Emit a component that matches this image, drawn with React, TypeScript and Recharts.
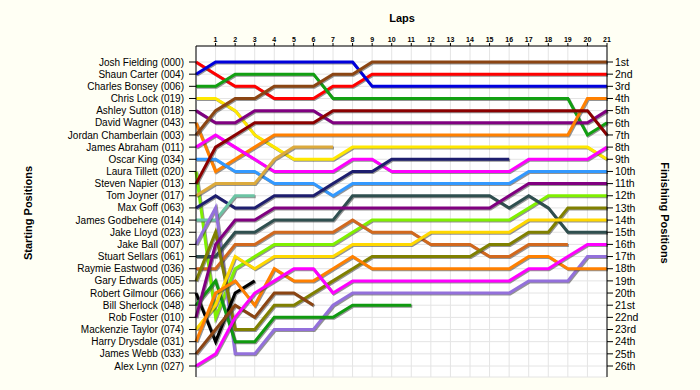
import React from 'react';
import { LineChart, Line, XAxis, YAxis, CartesianGrid } from 'recharts';

const startingNames = [
  'Josh Fielding (000)', 'Shaun Carter (004)', 'Charles Bonsey (006)', 'Chris Lock (019)',
  'Ashley Sutton (018)', 'David Wagner (043)', 'Jordan Chamberlain (003)', 'James Abraham (011)',
  'Oscar King (034)', 'Laura Tillett (020)', 'Steven Napier (013)', 'Tom Joyner (017)',
  'Max Goff (063)', 'James Godbehere (014)', 'Jake Lloyd (023)', 'Jake Ball (007)',
  'Stuart Sellars (061)', 'Raymie Eastwood (036)', 'Gary Edwards (005)', 'Robert Gilmour (066)',
  'Bill Sherlock (048)', 'Rob Foster (010)', 'Mackenzie Taylor (074)', 'Harry Drysdale (031)',
  'James Webb (033)', 'Alex Lynn (027)',
];

const finishingLabels = [
  '1st', '2nd', '3rd', '4th', '5th', '6th', '7th', '8th', '9th', '10th', '11th', '12th', '13th',
  '14th', '15th', '16th', '17th', '18th', '19th', '20th', '21st', '22nd', '23rd', '24th', '25th', '26th',
];

const laps = [0, 1, 2, 3, 4, 5, 6, 7, 8, 9, 10, 11, 12, 13, 14, 15, 16, 17, 18, 19, 20, 21];
const lapTicks = [1, 2, 3, 4, 5, 6, 7, 8, 9, 10, 11, 12, 13, 14, 15, 16, 17, 18, 19, 20, 21];
const positionTicks = [1, 2, 3, 4, 5, 6, 7, 8, 9, 10, 11, 12, 13, 14, 15, 16, 17, 18, 19, 20, 21, 22, 23, 24, 25, 26];

// position of each driver after each lap (index = lap)
const posJoshFielding = [1, 2, 3, 3, 4, 4, 4, 3, 3, 2, 2, 2, 2, 2, 2, 2, 2, 2, 2, 2, 2, 2];
const posShaunCarter = [2, 1, 1, 1, 1, 1, 1, 1, 1, 3, 3, 3, 3, 3, 3, 3, 3, 3, 3, 3, 3, 3];
const posCharlesBonsey = [3, 3, 2, 2, 2, 2, 2, 4, 4, 4, 4, 4, 4, 4, 4, 4, 4, 4, 4, 4, 7, 6];
const posChrisLock = [4, 4, 5, 7, 8, 9, 9, 9, 8, 8, 8, 8, 8, 8, 8, 8, 8, 8, 8, 8, 8, 9];
const posAshleySutton = [5, 6, 6, 5, 5, 5, 5, 6, 6, 6, 6, 6, 6, 6, 6, 6, 6, 6, 6, 6, 6, 5];
const posDavidWagner = [6, 10, 9, 8, 7, 7, 7, 7, 7, 7, 7, 7, 7, 7, 7, 7, 7, 7, 7, 7, 4, 4];
const posJordanChamberlain = [7, 5, 4, 4, 3, 3, 3, 2, 2, 1, 1, 1, 1, 1, 1, 1, 1, 1, 1, 1, 1, 1];
const posJamesAbraham = [8, 7, 8, 9, 10, 10, 10, 10, 9, 9, 10, 10, 10, 10, 10, 10, 10, 9, 9, 9, 9, 8];
const posOscarKing = [9, 9, 10, 10, 11, 11, 11, 12, 11, 11, 11, 11, 11, 11, 11, 11, 11, 10, 10, 10, 10, 10];
const posLauraTillett = [10, 22, 18, 17, 16, 16, 16, 16, 15, 14, 14, 14, 14, 14, 14, 14, 14, 13, 12, 12, 12, 12];
const posStevenNapier = [11, 8, 7, 6, 6, 6, 6, 5, 5, 5, 5, 5, 5, 5, 5, 5, 5, 5, 5, 5, 5, 7];
const posTomJoyner = [12, 11, 11, 11, 9, 8, 8, 8];
const posMaxGoff = [13, 12, 13, 13, 12, 12, 12, 11, 10, 10, 9, 9, 9, 9, 9, 9, 9];
const posJamesGodbehere = [14, 14, 12, 12];
const posJakeLloyd = [15];
const posJakeBall = [16, 13, 25, 25, 23, 23, 23, 21, 20, 20, 20, 20, 20, 20, 20, 20, 20, 19, 19, 19, 17, 17];
const posStuartSellars = [17, 17, 15, 15, 14, 14, 14, 14, 12, 12, 12, 12, 12, 12, 12, 12, 13, 12, 13, 15, 15, 15];
const posRaymieEastwood = [18, 18, 16, 16, 15, 15, 15, 15, 14, 15, 15, 15, 16, 16, 16, 17, 17, 16, 16, 16];
const posGaryEdwards = [19, 15, 23, 23, 21, 21, 20, 19, 18, 17, 17, 17, 17, 17, 17, 16, 16, 15, 15, 13, 13, 13];
const posRobertGilmour = [20, 24, 20, 19];
const posBillSherlock = [21, 19, 24, 24, 22, 22, 22, 22, 21, 21, 21, 21];
const posRobFoster = [22, 16, 14, 14, 13, 13, 13, 13, 13, 13, 13, 13, 13, 13, 13, 13, 12, 11, 11, 11, 11, 11];
const posMackenzieTaylor = [23, 21, 17, 18, 17, 17, 17, 17, 16, 16, 16, 16, 15, 15, 15, 15, 15, 14, 14, 14, 14, 14];
const posHarryDrysdale = [24, 20, 19, 21, 18, 19, 19, 18, 17, 18, 18, 18, 18, 18, 18, 18, 18, 17, 17, 18, 18, 18];
const posJamesWebb = [25, 23, 21, 22, 20, 20, 21];
const posAlexLynn = [26, 25, 22, 20, 19, 18, 18, 20, 19, 19, 19, 19, 19, 19, 19, 19, 19, 18, 18, 17, 16, 16];

const driverPositions = [
  posJoshFielding, posShaunCarter, posCharlesBonsey, posChrisLock, posAshleySutton, posDavidWagner,
  posJordanChamberlain, posJamesAbraham, posOscarKing, posLauraTillett, posStevenNapier, posTomJoyner,
  posMaxGoff, posJamesGodbehere, posJakeLloyd, posJakeBall, posStuartSellars, posRaymieEastwood,
  posGaryEdwards, posRobertGilmour, posBillSherlock, posRobFoster, posMackenzieTaylor, posHarryDrysdale,
  posJamesWebb, posAlexLynn,
];

const driverColors = [
  '#FF0000', '#0000DD', '#12A012', '#FFE800', '#800080', '#FF8000', '#8B4513', '#FF00FF',
  '#3399FF', '#80F000', '#8B0000', '#DCAA3C', '#1E1E6E', '#6CC4A4', '#999999', '#9370DB',
  '#2F4F4F', '#D2691E', '#808000', '#000000', '#109A10', '#800080', '#FFD800', '#FF8000',
  '#8B4513', '#FF00FF',
];

const data = laps.map((lap) => {
  const row: Record<string, number | null> = { lap };
  driverPositions.forEach((arr, i) => {
    row['d' + i] = lap < arr.length ? arr[lap] : null;
  });
  return row;
});

const FONT = '"Liberation Sans", Arial, sans-serif';

export default function App() {
  return (
    <div style={{ position: 'relative', width: 700, height: 390, background: '#FFFFF4', fontFamily: FONT }}>
      <style>{`body{margin:0} .recharts-line-curve{filter:drop-shadow(1.5px 1.5px 0.6px rgba(60,60,60,0.55));}`}</style>
      <LineChart width={700} height={390} data={data} margin={{ top: 30, right: 33, bottom: 13, left: 10 }}>
        <CartesianGrid xAxisId="top" yAxisId="left" stroke="#E4E4E4" strokeWidth={1} fill="#FFFFFF" />
        <XAxis
          xAxisId="top"
          orientation="top"
          dataKey="lap"
          type="number"
          domain={[0, 21]}
          ticks={lapTicks}
          interval={0}
          height={16}
          tickSize={3}
          tickMargin={1}
          axisLine={{ stroke: '#000' }}
          tickLine={{ stroke: '#000' }}
          tick={{ fontSize: 7, fontWeight: 'bold', fill: '#000', fontFamily: FONT }}
        />
        <XAxis
          xAxisId="bottom"
          orientation="bottom"
          dataKey="lap"
          type="number"
          domain={[0, 21]}
          height={0}
          tick={false}
          tickLine={false}
          axisLine={{ stroke: '#D8D8D8' }}
        />
        <YAxis
          yAxisId="left"
          orientation="left"
          type="number"
          domain={[1, 26]}
          reversed
          ticks={positionTicks}
          interval={0}
          width={186}
          padding={{ top: 16, bottom: 11 }}
          tickSize={7}
          tickMargin={5}
          axisLine={{ stroke: '#000' }}
          tickLine={{ stroke: '#000' }}
          tickFormatter={(v: number) => startingNames[v - 1]}
          tick={{ fontSize: 10, fill: '#000', fontFamily: FONT }}
        />
        <YAxis
          yAxisId="right"
          orientation="right"
          type="number"
          domain={[1, 26]}
          allowDataOverflow
          reversed
          ticks={positionTicks}
          interval={0}
          width={60}
          padding={{ top: 16, bottom: 11 }}
          tickSize={6}
          tickMargin={2}
          axisLine={{ stroke: '#000' }}
          tickLine={{ stroke: '#000' }}
          tickFormatter={(v: number) => finishingLabels[v - 1]}
          tick={{ fontSize: 10.5, fill: '#000', fontFamily: FONT }}
        />
        <Line
          xAxisId="bottom"
          yAxisId="right"
          type="linear"
          dataKey="d0"
          stroke="none"
          strokeWidth={0}
          dot={false}
          activeDot={false}
          isAnimationActive={false}
          legendType="none"
        />
        {driverPositions.map((_, i) => (
          <Line
            key={i}
            xAxisId="top"
            yAxisId="left"
            type="linear"
            dataKey={'d' + i}
            stroke={driverColors[i]}
            strokeWidth={3}
            dot={false}
            activeDot={false}
            connectNulls={false}
            isAnimationActive={false}
          />
        ))}
      </LineChart>
      <div style={{ position: 'absolute', left: 0, width: 700, top: 12, textAlign: 'center', paddingLeft: 104, boxSizing: 'border-box', fontSize: 11, fontWeight: 'bold', color: '#000' }}>
        Laps
      </div>
      <div style={{ position: 'absolute', left: 28, top: 213, transform: 'translate(-50%, -50%) rotate(-90deg)', whiteSpace: 'nowrap', fontSize: 11, fontWeight: 'bold', color: '#000' }}>
        Starting Positions
      </div>
      <div style={{ position: 'absolute', left: 665, top: 213, transform: 'translate(-50%, -50%) rotate(90deg)', whiteSpace: 'nowrap', fontSize: 11, fontWeight: 'bold', color: '#000' }}>
        Finishing Positions
      </div>
    </div>
  );
}
